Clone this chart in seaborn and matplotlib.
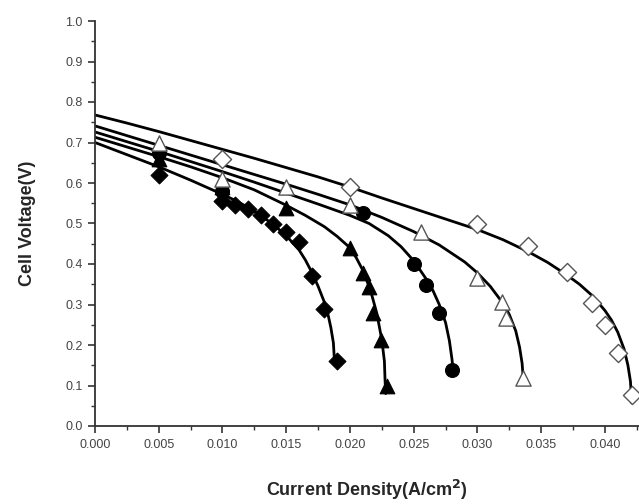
import matplotlib
matplotlib.use("Agg")
import matplotlib.pyplot as plt
from matplotlib.ticker import MultipleLocator, FormatStrFormatter
import seaborn as sns

# ---- measured points ----
d_x = [0.005, 0.010, 0.011, 0.012, 0.013, 0.014, 0.015, 0.016, 0.017, 0.018, 0.019]
d_y = [0.62, 0.555, 0.545, 0.535, 0.52, 0.50, 0.48, 0.455, 0.37, 0.29, 0.16]
t_x = [0.005, 0.010, 0.015, 0.020, 0.021, 0.0215, 0.0218, 0.0224, 0.0229]
t_y = [0.66, 0.59, 0.538, 0.44, 0.377, 0.344, 0.28, 0.212, 0.10]
c_x = [0.005, 0.010, 0.021, 0.025, 0.026, 0.027, 0.028]
c_y = [0.675, 0.58, 0.526, 0.40, 0.348, 0.279, 0.138]
ot_x = [0.005, 0.010, 0.015, 0.020, 0.0256, 0.030, 0.0319, 0.0322, 0.0336]
ot_y = [0.70, 0.61, 0.59, 0.546, 0.479, 0.365, 0.306, 0.267, 0.118]
od_x = [0.010, 0.020, 0.030, 0.034, 0.037, 0.039, 0.040, 0.041, 0.0421]
od_y = [0.66, 0.59, 0.50, 0.444, 0.38, 0.303, 0.25, 0.18, 0.077]

# ---- fitted curves ----
dc_x = [0.0, 0.0025, 0.005, 0.0075, 0.010, 0.011, 0.012, 0.013, 0.014, 0.015, 0.016,
        0.0165, 0.017, 0.0175, 0.018, 0.0183, 0.0185, 0.0187, 0.01875, 0.0188]
dc_y = [0.700, 0.670, 0.640, 0.607, 0.572, 0.557, 0.540, 0.520, 0.497, 0.470, 0.435,
        0.410, 0.380, 0.345, 0.305, 0.272, 0.243, 0.205, 0.178, 0.150]
tc_x = [0.0, 0.0025, 0.005, 0.0075, 0.010, 0.0125, 0.015, 0.0165, 0.018, 0.019, 0.020,
        0.0205, 0.021, 0.0216, 0.0221, 0.0225, 0.0227, 0.02275, 0.0228]
tc_y = [0.713, 0.689, 0.665, 0.640, 0.613, 0.583, 0.545, 0.520, 0.492, 0.468, 0.440,
        0.415, 0.385, 0.336, 0.279, 0.212, 0.160, 0.114, 0.080]
cc_x = [0.0, 0.0025, 0.005, 0.0075, 0.010, 0.0125, 0.015, 0.0175, 0.020, 0.0215, 0.023,
        0.024, 0.025, 0.026, 0.0265, 0.027, 0.0275, 0.0278, 0.0280, 0.0281]
cc_y = [0.726, 0.702, 0.678, 0.653, 0.628, 0.602, 0.575, 0.548, 0.520, 0.500, 0.470,
        0.443, 0.408, 0.362, 0.335, 0.300, 0.255, 0.210, 0.165, 0.135]
otc_x = [0.0, 0.0025, 0.005, 0.0075, 0.010, 0.0125, 0.015, 0.0175, 0.020, 0.0225, 0.025,
         0.027, 0.029, 0.030, 0.031, 0.032, 0.0325, 0.033, 0.0333, 0.0335, 0.0336]
otc_y = [0.741, 0.717, 0.693, 0.669, 0.645, 0.621, 0.597, 0.572, 0.546, 0.515, 0.480,
         0.447, 0.405, 0.378, 0.345, 0.303, 0.275, 0.235, 0.195, 0.155, 0.114]
odc_x = [0.0, 0.0025, 0.005, 0.0075, 0.010, 0.0125, 0.015, 0.0175, 0.020, 0.0225, 0.025,
         0.0275, 0.030, 0.032, 0.034, 0.0355, 0.037, 0.038, 0.039, 0.040, 0.0405, 0.041,
         0.0415, 0.0418, 0.0420, 0.0421]
odc_y = [0.768, 0.748, 0.727, 0.705, 0.683, 0.661, 0.638, 0.615, 0.590, 0.563, 0.537,
         0.511, 0.485, 0.460, 0.430, 0.404, 0.373, 0.350, 0.322, 0.285, 0.262, 0.232,
         0.190, 0.150, 0.110, 0.057]

sns.set_style("ticks")
plt.rcParams['font.family'] = ['Liberation Sans', 'DejaVu Sans']

fig = plt.figure(figsize=(6.39, 5.04), dpi=100)
ax = fig.add_axes([95/639, 1 - 426/504, 1 - 95/639, (426 - 21)/504])

for cx, cy in [(dc_x, dc_y), (tc_x, tc_y), (cc_x, cc_y), (otc_x, otc_y), (odc_x, odc_y)]:
    sns.lineplot(x=cx, y=cy, ax=ax, color='black', linewidth=2.0, sort=False,
                 estimator=None, zorder=2)

sns.scatterplot(x=d_x, y=d_y, ax=ax, marker='D', s=75, color='black',
                edgecolor='black', zorder=3)
sns.scatterplot(x=t_x, y=t_y, ax=ax, marker='^', s=110, color='black',
                edgecolor='black', zorder=3)
sns.scatterplot(x=c_x, y=c_y, ax=ax, marker='o', s=100, color='black',
                edgecolor='black', zorder=3)
sns.scatterplot(x=ot_x, y=ot_y, ax=ax, marker='^', s=120, facecolor='white',
                edgecolor='#555555', linewidth=1.0, zorder=3)
sns.scatterplot(x=od_x, y=od_y, ax=ax, marker='D', s=85, facecolor='white',
                edgecolor='#555555', linewidth=1.0, zorder=3)

ax.set_xlim(0, 0.04267)
ax.set_ylim(0, 1.0)
ax.xaxis.set_major_locator(MultipleLocator(0.005))
ax.xaxis.set_minor_locator(MultipleLocator(0.0025))
ax.yaxis.set_major_locator(MultipleLocator(0.1))
ax.yaxis.set_minor_locator(MultipleLocator(0.05))
ax.xaxis.set_major_formatter(FormatStrFormatter('%.3f'))
ax.yaxis.set_major_formatter(FormatStrFormatter('%.1f'))

for s in ['top', 'right']:
    ax.spines[s].set_visible(False)
for s in ['left', 'bottom']:
    ax.spines[s].set_linewidth(1.3)
    ax.spines[s].set_color('#333333')

ax.tick_params(which='major', direction='out', length=5, width=1.2, colors='#333333',
               labelsize=9, labelcolor='#444444', pad=4)
ax.tick_params(which='minor', direction='out', length=3, width=1.0, colors='#333333')

ax.set_xlabel('Current Density(A/cm$^\\mathbf{2}$)', fontsize=13, fontweight='bold', labelpad=20)
ax.set_ylabel('Cell Voltage(V)', fontsize=13, fontweight='bold', labelpad=21)

fig.savefig('out.png', dpi=100)
